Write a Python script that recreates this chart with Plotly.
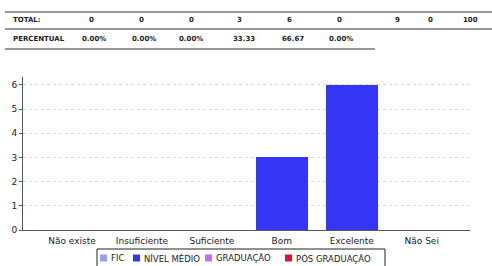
import plotly.graph_objects as go

# ---------------- data ----------------
categories = ["Não existe", "Insuficiente", "Suficiente", "Bom", "Excelente", "Não Sei"]
series_names = ["FIC", "NÍVEL MÉDIO", "GRADUAÇÃO", "PÓS GRADUAÇÃO"]
fic = [0, 0, 0, 0, 0, 0]
nivel_medio = [0, 0, 0, 3, 6, 0]
graduacao = [0, 0, 0, 0, 0, 0]
pos_graduacao = [0, 0, 0, 0, 0, 0]
series_values = [fic, nivel_medio, graduacao, pos_graduacao]
series_colors = ["#9c9cf2", "#3535f5", "#c070f0", "#e0103c"]

table_totals = ["0", "0", "0", "3", "6", "0"]
table_percent = ["0.00%", "0.00%", "0.00%", "33.33", "66.67", "0.00%"]
table_extra = ["9", "0", "100"]
y_ticks = [0, 1, 2, 3, 4, 5, 6]

W, H = 492, 266


def px(x):
    return x / W


def py(y):
    return 1 - y / H


fig = go.Figure()
for name, vals, col in zip(series_names, series_values, series_colors):
    fig.add_trace(go.Bar(x=categories, y=vals, name=name, marker_color=col,
                         marker_line_width=0, width=0.74, showlegend=False))

shapes = []
annotations = []
font_tbl = dict(family="DejaVu Sans", size=7, color="#222")

# table lines
shapes.append(dict(type="line", xref="paper", yref="paper", x0=px(5), x1=px(492),
                   y0=py(12), y1=py(12), line=dict(color="#333", width=1)))
shapes.append(dict(type="line", xref="paper", yref="paper", x0=px(5), x1=px(492),
                   y0=py(29), y1=py(29), line=dict(color="#999", width=2)))
shapes.append(dict(type="line", xref="paper", yref="paper", x0=px(5), x1=px(375),
                   y0=py(49), y1=py(49), line=dict(color="#333", width=1)))

annotations.append(dict(text="<b>TOTAL:</b>", x=px(11), y=py(20), xref="paper", yref="paper",
                        xanchor="left", yanchor="middle", showarrow=False, font=font_tbl))
annotations.append(dict(text="<b>PERCENTUAL</b>", x=px(11), y=py(39), xref="paper", yref="paper",
                        xanchor="left", yanchor="middle", showarrow=False, font=font_tbl))
tot_x = [91, 141, 191, 239, 289, 339]
pct_x = [94, 144, 191, 244, 293, 341]
extra_x = [397, 430, 470]
for t, xx in zip(table_totals, tot_x):
    annotations.append(dict(text=f"<b>{t}</b>", x=px(xx), y=py(20), xref="paper", yref="paper",
                            xanchor="center", yanchor="middle", showarrow=False, font=font_tbl))
for t, xx in zip(table_percent, pct_x):
    annotations.append(dict(text=f"<b>{t}</b>", x=px(xx), y=py(39), xref="paper", yref="paper",
                            xanchor="center", yanchor="middle", showarrow=False, font=font_tbl))
for t, xx in zip(table_extra, extra_x):
    annotations.append(dict(text=f"<b>{t}</b>", x=px(xx), y=py(20), xref="paper", yref="paper",
                            xanchor="center", yanchor="middle", showarrow=False, font=font_tbl))

# custom legend
shapes.append(dict(type="rect", xref="paper", yref="paper", x0=px(97), x1=px(385),
                   y0=py(275), y1=py(249), line=dict(color="#222", width=1), fillcolor="white"))
sq_x = [100, 133, 205, 285]
ly = 258
for name, col, sx in zip(series_names, series_colors, sq_x):
    shapes.append(dict(type="rect", xref="paper", yref="paper", x0=px(sx), x1=px(sx + 7),
                       y0=py(ly + 3.5), y1=py(ly - 3.5), line=dict(width=0), fillcolor=col))
    annotations.append(dict(text=name, x=px(sx + 9), y=py(ly), xref="paper", yref="paper",
                            xanchor="left", yanchor="middle", showarrow=False,
                            font=dict(family="DejaVu Sans", size=8.5, color="#222")))

fig.update_layout(
    width=W, height=H, autosize=False,
    margin=dict(l=0, r=0, t=0, b=0, pad=0),
    paper_bgcolor="white", plot_bgcolor="white",
    barmode="overlay", bargap=0,
    showlegend=False,
    shapes=shapes, annotations=annotations,
    font=dict(family="DejaVu Sans", size=9, color="#222"),
)
fig.update_xaxes(
    domain=[px(23), px(470)], range=[-0.7, 5.69], automargin=False,
    showline=True, linecolor="#555", linewidth=1,
    ticks="", showgrid=False, tickfont=dict(size=9, color="#222"),
    ticklabelstandoff=2,
)
fig.update_yaxes(
    domain=[py(230), py(77)], range=[0, 6.33], automargin=False,
    tickvals=y_ticks, showline=True, linecolor="#555", linewidth=1,
    ticks="outside", ticklen=3, tickcolor="#555",
    showgrid=True, gridcolor="#d8d8d8", griddash="dot", gridwidth=1,
    zeroline=False, tickfont=dict(size=9, color="#222"),
)

fig.write_html(
    "out.html",
    config={"displayModeBar": False},
    post_script="document.body.style.margin='0';document.body.style.padding='0';"
                "document.documentElement.style.overflow='hidden';",
)
